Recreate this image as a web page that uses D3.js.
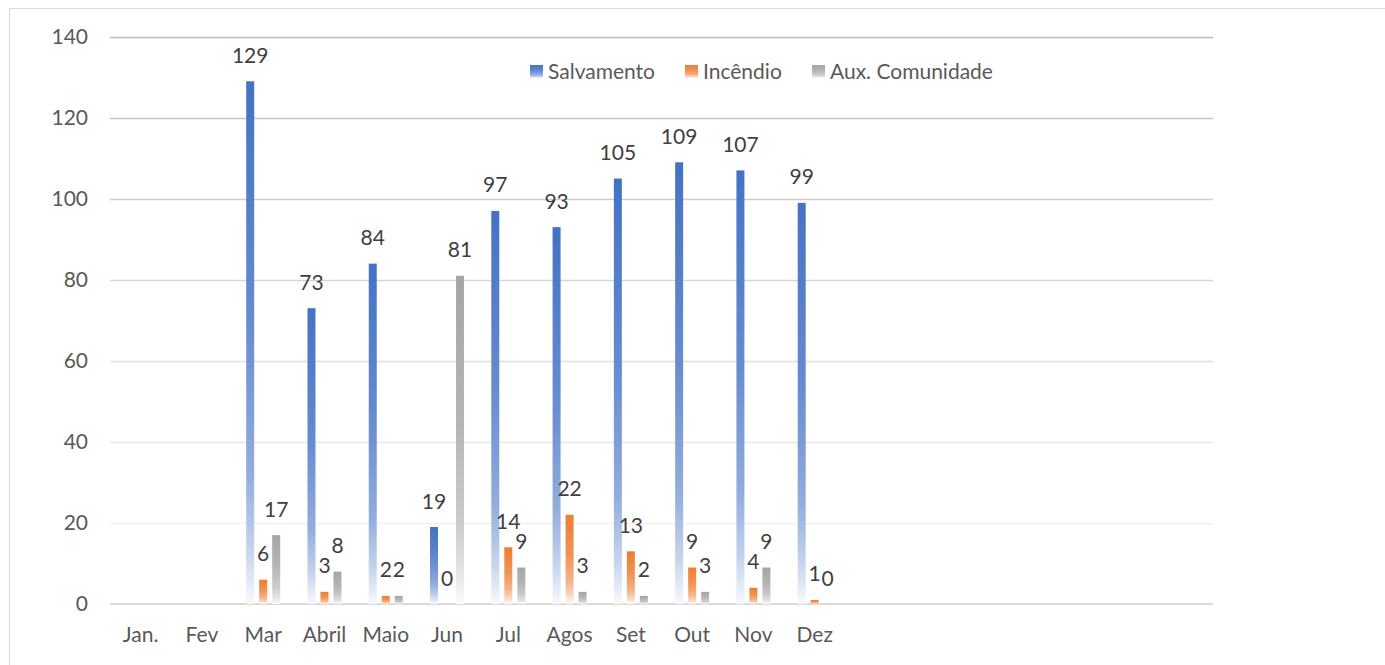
<!DOCTYPE html>
<html>
<head>
<meta charset="utf-8">
<script src="https://cdn.jsdelivr.net/npm/d3@7"></script>
<style>
  html, body { margin: 0; padding: 0; background: #fff; }
  svg { display: block; font-family: Lato, "Open Sans", sans-serif; }
</style>
</head>
<body>
<svg id="chart" width="1385" height="665"></svg>
<script>
// ---- data ----
const categories = ["Jan.", "Fev", "Mar", "Abril", "Maio", "Jun", "Jul", "Agos", "Set", "Out", "Nov", "Dez"];
const seriesNames = ["Salvamento", "Incêndio", "Aux. Comunidade"];
const salvamento = [null, null, 129, 73, 84, 19, 97, 93, 105, 109, 107, 99];
const incendio   = [null, null, 6, 3, 2, 0, 14, 22, 13, 9, 4, 1];
const auxComunidade = [null, null, 17, 8, 2, 81, 9, 3, 2, 3, 9, 0];
const yTicks = [0, 20, 40, 60, 80, 100, 120, 140];
const slotCount = 18; // category slots on the axis (last ones are empty)

const seriesValues = [salvamento, incendio, auxComunidade];
const seriesColors = ["#4472C4", "#ED7D31", "#A5A5A5"];

(function () {
const FS = 21;
const svg = d3.select("#chart");
const defs = svg.append("defs");

// frame
svg.append("rect").attr("x", 9.5).attr("y", 8.5).attr("width", 1500).attr("height", 800)
  .attr("fill", "none").attr("stroke", "#d9d9d9").attr("stroke-width", 1);

const pLeft = 110, pRight = 1213, pTop = 36.7, pBottom = 604;

const y = d3.scaleLinear().domain([0, 140]).range([pBottom, pTop]);
const x0 = d3.scaleBand().domain(d3.range(slotCount)).range([pLeft, pRight]).padding(0);
const x1 = d3.scaleBand().domain(seriesNames).range([0, 34]).paddingInner(5 / 13).paddingOuter(0);

// gradients
seriesColors.forEach((c, i) => {
  const g = defs.append("linearGradient").attr("id", "grad" + i)
    .attr("x1", 0).attr("y1", 0).attr("x2", 0).attr("y2", 1);
  const mix = t => d3.interpolateRgb(c, "#ffffff")(t);
  [[0, 0], [0.45, 0.18], [0.75, 0.42], [0.9, 0.7], [1, 0.96]].forEach(([o, t]) => {
    g.append("stop").attr("offset", o).attr("stop-color", mix(t));
  });
});

// gridlines
const gridColor = d3.scaleLinear().domain([20, 140]).range(["#f0f0f0", "#bcbcbc"]);
svg.append("g").selectAll("line").data(yTicks.filter(v => v > 0)).join("line")
  .attr("x1", pLeft).attr("x2", pRight)
  .attr("y1", d => Math.round(y(d)) + 0.5).attr("y2", d => Math.round(y(d)) + 0.5)
  .attr("stroke", d => gridColor(d)).attr("stroke-width", 1.5);

// baseline
svg.append("line").attr("x1", pLeft).attr("x2", pRight).attr("y1", y(0)).attr("y2", y(0))
  .attr("stroke", "#d9d9d9").attr("stroke-width", 2);

// y axis labels
const yAxis = d3.axisLeft(y).tickValues(yTicks).tickSize(0).tickPadding(0);
const yg = svg.append("g").attr("transform", "translate(88,0)").call(yAxis);
yg.select(".domain").remove();
yg.selectAll("text").attr("fill", "#595959").attr("font-size", FS).attr("font-family", "Lato, sans-serif")
  .attr("dy", "0.3em");

// x axis labels
const xAxis = d3.axisBottom(x0).tickSize(0).tickPadding(0).tickFormat(i => categories[i] || "");
const xg = svg.append("g").attr("transform", `translate(0,${pBottom})`).call(xAxis);
xg.select(".domain").remove();
xg.selectAll("text").attr("fill", "#595959").attr("font-size", FS).attr("font-family", "Lato, sans-serif")
  .attr("y", 38).attr("dy", 0);

// bars
const barData = [];
categories.forEach((cat, ci) => {
  seriesNames.forEach((s, si) => {
    const v = seriesValues[si][ci];
    if (v !== null && v !== undefined) barData.push({ ci, s, si, v });
  });
});
const bx = d => x0(d.ci) + x0.bandwidth() / 2 - 17 + x1(d.s);

svg.append("g").selectAll("rect").data(barData).join("rect")
  .attr("x", bx)
  .attr("y", d => y(d.v))
  .attr("width", x1.bandwidth())
  .attr("height", d => y(0) - y(d.v))
  .attr("fill", d => `url(#grad${d.si})`);

// data labels
svg.append("g").selectAll("text").data(barData).join("text")
  .attr("x", d => bx(d) + x1.bandwidth() / 2)
  .attr("y", d => y(d.v) - 18.5)
  .attr("text-anchor", "middle")
  .attr("font-size", FS).attr("fill", "#404040")
  .text(d => d.v);

// legend
const legendX = [530, 685, 812];
const lg = svg.append("g").selectAll("g").data(seriesNames).join("g")
  .attr("transform", (d, i) => `translate(${legendX[i]},65)`);
lg.append("rect").attr("width", 13).attr("height", 13).attr("fill", (d, i) => `url(#grad${i})`);
lg.append("text").attr("x", 18).attr("y", 14).attr("font-size", FS).attr("fill", "#595959").text(d => d);
})();
</script>
</body>
</html>
